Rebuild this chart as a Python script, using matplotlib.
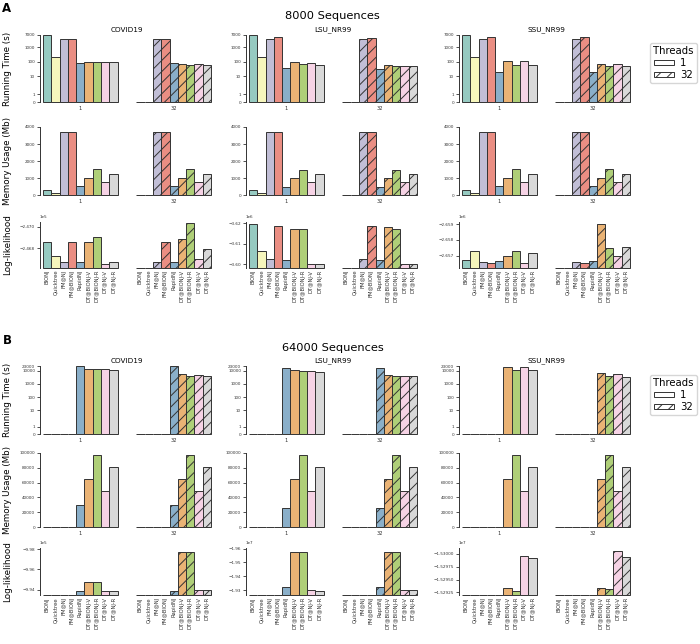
import numpy as np
import matplotlib.pyplot as plt
import seaborn as sns
from matplotlib.patches import Patch

methods = ['BIONJ', 'Quicktree', 'FM@NJ', 'FM@BIONJ', 'RapidNJ',
           'DT@BIONJ-V', 'DT@BIONJ-R', 'DT@NJ-V', 'DT@NJ-R']
threads = ['1', '32']
datasets = ['COVID19', 'LSU_NR99', 'SSU_NR99']
nan = np.nan

# ---- 8000 sequences ----
# running time (s): per dataset, [1 thread, 32 threads]
time_8k = [
    [[7000, 220, 3500, 3900, 78, 95, 90, 90, 88],
     [0, 0, 3700, 3700, 78, 66, 57, 66, 57]],
    [[7000, 210, 3700, 4800, 35, 90, 66, 81, 59],
     [0, 0, 3700, 4300, 33, 62, 48, 48, 48]],
    [[7000, 220, 3700, 4800, 20, 106, 57, 106, 57],
     [0, 0, 3700, 5300, 20, 66, 48, 66, 48]],
]
# memory usage (Mb)
mem_8k = [
    [[290, 130, 3690, 3690, 545, 1000, 1520, 800, 1265],
     [0, 0, 3690, 3690, 545, 1000, 1520, 770, 1265]],
    [[290, 130, 3690, 3690, 470, 1000, 1500, 760, 1265],
     [0, 0, 3690, 3690, 470, 1000, 1500, 760, 1265]],
    [[290, 130, 3690, 3690, 545, 1000, 1520, 760, 1265],
     [0, 0, 3690, 3690, 545, 1000, 1520, 760, 1265]],
]
# log-likelihood
ll_8k = [
    [[-246860, -246727, -246667, -246860, -246676, -246860, -246905, -246650, -246667],
     [nan, nan, -246667, -246860, -246667, -246889, -247031, -246702, -246790]],
    [[-3619660, -3606340, -3602440, -3618680, -3602100, -3617220, -3617220, -3600300, -3600150],
     [nan, nan, -3602440, -3618500, -3602000, -3618200, -3617200, -3600300, -3600300]],
    [[-2656730, -2657296, -2656604, -2656497, -2656667, -2656981, -2657270, -2656541, -2657145],
     [nan, nan, -2656604, -2656497, -2656667, -2659013, -2657484, -2656981, -2657566]],
]
ll_8k_lims = [(-246620, -247045), (-3598500, -3620600), (-2656240, -2659140)]
ll_8k_ticks = [[-247000, -246800],
               [-3620000, -3610000, -3600000],
               [-2659000, -2658000, -2657000]]

# ---- 64000 sequences ----
time_64k = [
    [[0, 0, 0, 0, 22300, 14700, 12500, 13200, 11100],
     [0, 0, 0, 0, 21200, 5500, 4200, 4700, 3900]],
    [[0, 0, 0, 0, 16900, 11100, 9300, 9300, 8400],
     [0, 0, 0, 0, 16900, 5000, 3900, 3900, 3900]],
    [[0, 0, 0, 0, 0, 20000, 11100, 20000, 11100],
     [0, 0, 0, 0, 0, 7100, 3900, 6200, 3300]],
]
mem_64k = [
    [[0, 0, 0, 0, 30300, 64800, 96600, 48300, 80900],
     [0, 0, 0, 0, 30300, 64800, 96600, 48300, 80900]],
    [[0, 0, 0, 0, 25500, 64800, 96600, 48300, 80900],
     [0, 0, 0, 0, 25500, 64800, 96600, 48300, 80900]],
    [[0, 0, 0, 0, 0, 64800, 96600, 48300, 80900],
     [0, 0, 0, 0, 0, 64800, 96600, 48300, 80900]],
]
ll_64k = [
    [[nan, nan, nan, nan, -993903, -994803, -994803, -993935, -993903],
     [nan, nan, nan, nan, -993903, -997678, -997743, -994000, -994000]],
    [[nan, nan, nan, nan, -19319148, -19574468, -19574468, -19300000, -19292900],
     [nan, nan, nan, nan, -19319148, -19574468, -19574468, -19300000, -19300000]],
    [[nan, nan, nan, nan, nan, -15293327, -15292736, -15299553, -15299159],
     [nan, nan, nan, nan, nan, -15293327, -15293130, -15300538, -15299356]],
]
ll_64k_lims = [(-993500, -998100), (-19264500, -19605000), (-15292000, -15301100)]
ll_64k_ticks = [[-998000, -996000, -994000],
                [-19600000, -19500000, -19400000, -19300000],
                [-15300000, -15297500, -15295000, -15292500]]

colors = sns.color_palette('Set3', 9, desat=0.75)
edge = '#333333'
W, H = 700, 644
fig = plt.figure(figsize=(7, 6.44), dpi=100)
plt.rcParams['hatch.linewidth'] = 0.7

gap = 11.25  # offset of the 32-thread group
col_left = [40, 246, 459]
col_w = 174


def px_axes(left, top, width, height):
    return fig.add_axes([left / W, 1 - (top + height) / H, width / W, height / H])


def style(ax):
    for s in ['top', 'right', 'bottom']:
        ax.spines[s].set_visible(False)
    ax.spines['left'].set_color(edge)
    ax.spines['left'].set_linewidth(0.7)
    ax.tick_params(axis='y', labelsize=3, length=2, width=0.6, pad=1.5, colors='#333333')
    ax.tick_params(axis='x', labelsize=3.8, length=0, pad=3, colors='#333333')
    ax.set_xlim(-0.85, 20.1)


def draw_bars(ax, groups, base=0.0):
    for g, vals in enumerate(groups):
        v = np.array(vals, dtype=float)
        v[np.isnan(v)] = base
        x = g * gap + np.arange(len(methods))
        ax.bar(x, v - base, bottom=base, width=1, color=colors, edgecolor=edge,
               linewidth=0.7, hatch='' if g == 0 else '///', clip_on=False)


def section(top, title, time_d, time_max, time_ticks, mem_d, mem_max, mem_ticks,
            ll_d, ll_lims, ll_ticks, rows, letter, legend_top):
    (t_top, t_h), (m_top, m_h), (l_top, l_h) = rows
    fig.text(7 / W, 1 - (top - 9) / H, letter, fontsize=8.5, fontweight='bold',
             ha='center', va='center')
    fig.text(332.5 / W, 1 - (top - 2) / H, title, fontsize=8.2, ha='center', va='center')
    for c in range(3):
        # running time
        ax = px_axes(col_left[c], t_top, col_w, t_h)
        draw_bars(ax, time_d[c])
        ax.set_yscale('symlog', linthresh=2, linscale=1)
        ax.set_ylim(0, time_max)
        ax.set_yticks(time_ticks)
        ax.set_yticklabels([str(t) for t in time_ticks])
        ax.yaxis.set_minor_locator(plt.NullLocator())
        ax.set_xticks([4, 4 + gap])
        ax.set_xticklabels(threads)
        ax.set_title(datasets[c], fontsize=5.2, pad=2.5)
        style(ax)
        # memory
        ax = px_axes(col_left[c], m_top, col_w, m_h)
        draw_bars(ax, mem_d[c])
        ax.set_ylim(0, mem_max)
        ax.set_yticks(mem_ticks)
        ax.set_xticks([4, 4 + gap])
        ax.set_xticklabels(threads)
        style(ax)
        # log-likelihood
        ax = px_axes(col_left[c], l_top, col_w, l_h)
        draw_bars(ax, ll_d[c], base=ll_lims[c][0])
        ax.set_ylim(*ll_lims[c])
        ax.set_yticks(ll_ticks[c])
        ax.ticklabel_format(axis='y', style='sci', scilimits=(0, 0), useOffset=False)
        ax.yaxis.get_offset_text().set_fontsize(3)
        pos = np.concatenate([np.arange(9), gap + np.arange(9)])
        ax.set_xticks(pos)
        ax.set_xticklabels(methods * 2, rotation=90)
        style(ax)
        ax.tick_params(axis='x', pad=1.5)
    fig.text(7.5 / W, 1 - (t_top + t_h / 2) / H, 'Running Time (s)', rotation=90,
             fontsize=6.3, ha='center', va='center')
    fig.text(7.5 / W, 1 - (m_top + m_h / 2) / H, 'Memory Usage (Mb)', rotation=90,
             fontsize=6.3, ha='center', va='center')
    fig.text(7.5 / W, 1 - (l_top + l_h / 2) / H, 'Log-likelihood', rotation=90,
             fontsize=6.3, ha='center', va='center')
    handles = [Patch(facecolor='white', edgecolor=edge, linewidth=0.7, label='1'),
               Patch(facecolor='white', edgecolor=edge, linewidth=0.7, hatch='///', label='32')]
    fig.legend(handles=handles, title='Threads', loc='upper left',
               bbox_to_anchor=(645 / W, 1 - legend_top / H), fontsize=7.3,
               title_fontsize=7.3, handlelength=2, handleheight=0.5,
               borderpad=0.3, labelspacing=0.2, handletextpad=0.6)


section(18, '8000 Sequences', time_8k, 7000, [0, 1, 10, 100, 1000, 7000],
        mem_8k, 4000, [0, 1000, 2000, 3000, 4000],
        ll_8k, ll_8k_lims, ll_8k_ticks,
        [(35, 67.3), (127, 68.3), (222, 45.5)], 'A', 38)
section(350, '64000 Sequences', time_64k, 23000, [0, 1, 10, 100, 1000, 10000, 23000],
        mem_64k, 100000, [0, 20000, 40000, 60000, 80000, 100000],
        ll_64k, ll_64k_lims, ll_64k_ticks,
        [(366, 68.3), (452.7, 74.6), (548, 47)], 'B', 370)

fig.savefig('out.png', dpi=100)
